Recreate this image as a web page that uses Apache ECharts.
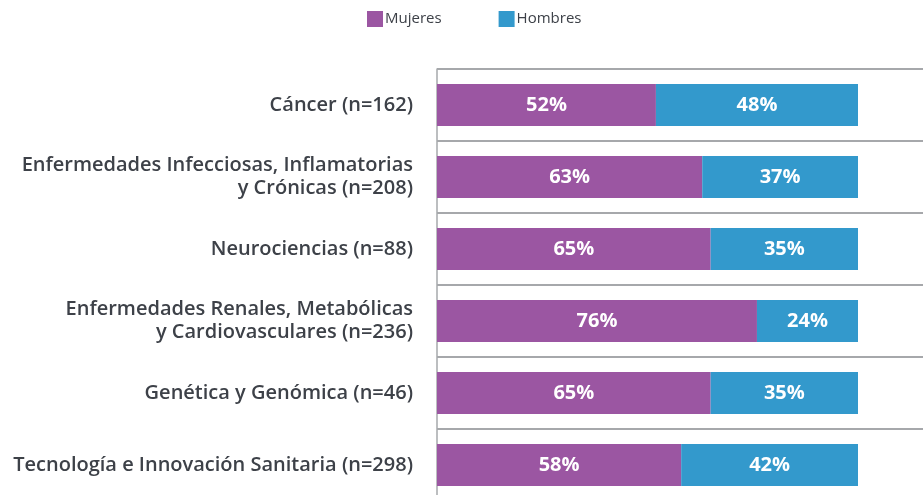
<!DOCTYPE html>
<html><head><meta charset="utf-8">
<script src="https://cdn.jsdelivr.net/npm/echarts@6/dist/echarts.min.js"></script>
<style>html,body{margin:0;padding:0;background:#fff}#c{width:923px;height:495px}</style>
</head><body><div id="c"></div>
<script>
const categories = [
  "Cáncer (n=162)",
  "Enfermedades Infecciosas, Inflamatorias\ny Crónicas (n=208)",
  "Neurociencias (n=88)",
  "Enfermedades Renales, Metabólicas\ny Cardiovasculares (n=236)",
  "Genética y Genómica (n=46)",
  "Tecnología e Innovación Sanitaria (n=298)"
];
const mujeres = [52, 63, 65, 76, 65, 58];
const hombres = [48, 37, 35, 24, 35, 42];

const chart = echarts.init(document.getElementById('c'));
const font = "'Open Sans', sans-serif";
chart.setOption({
  animation: false,
  legend: {
    top: 6, left: 362, itemWidth: 16, itemHeight: 16, itemGap: 57,
    icon: 'rect',
    textStyle: { fontFamily: font, fontSize: 15, color: '#3d4148', padding: [0,0,0,-3] },
    data: ['Mujeres', 'Hombres']
  },
  grid: { left: 437, right: 0, top: 69, height: 432, containLabel: false, outerBoundsMode: 'none' },
  xAxis: { type: 'value', min: 0, max: 115.44, show: false },
  yAxis: {
    type: 'category', inverse: true, data: categories,
    axisLine: { show: true, lineStyle: { color: '#a6a8ab', width: 1.5 } },
    axisTick: { show: false },
    splitLine: { show: true, lineStyle: { color: '#a6a8ab', width: 2 } },
    axisLabel: { fontFamily: font, fontSize: 20, fontWeight: 600, color: '#3d4148', margin: 24, lineHeight: 23, align: 'right' }
  },
  series: [
    { name: 'Mujeres', type: 'bar', stack: 't', barWidth: 42, data: mujeres,
      itemStyle: { color: '#9b56a2' },
      label: { show: true, position: 'inside', formatter: '{c}%', color: '#fff', fontFamily: font, fontWeight: 'bold', fontSize: 20 } },
    { name: 'Hombres', type: 'bar', stack: 't', barWidth: 42, data: hombres,
      itemStyle: { color: '#3399cc' },
      label: { show: true, position: 'inside', formatter: '{c}%', color: '#fff', fontFamily: font, fontWeight: 'bold', fontSize: 20 } }
  ]
});
</script></body></html>
